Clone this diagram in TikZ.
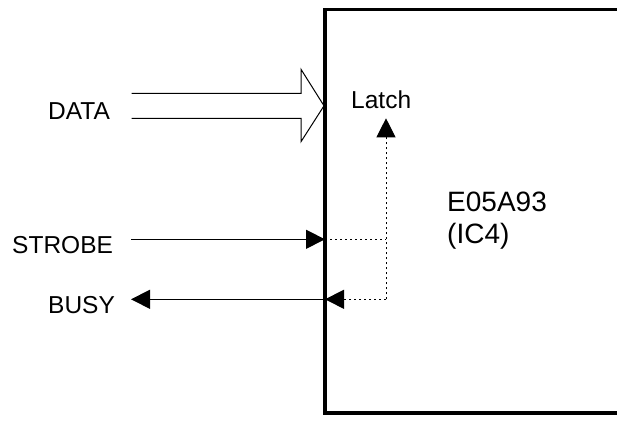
\documentclass[tikz,border=0pt]{standalone}
\usepackage{fontspec}
\setmainfont{Liberation Sans}
\usetikzlibrary{arrows.meta}
\begin{document}
\begin{tikzpicture}[x=1pt,y=-1pt,
  lab/.style={inner sep=0pt,anchor=base west,font=\fontsize{24.5}{29}\selectfont},
  chip/.style={inner sep=0pt,anchor=base west,font=\fontsize{28}{32}\selectfont},
  thin/.style={line width=1pt,black},
  dotline/.style={line width=1pt,black,dash pattern=on 2pt off 3pt},
  tip/.style={-{Triangle[length=19pt,width=19pt,fill=black]}},
  boxline/.style={line width=3.6pt}]
\useasboundingbox (0,0) rectangle (617,420);
\clip (0,0) rectangle (617,420);
% coordinates
\coordinate (tl) at (325,9.5);
\coordinate (bl) at (325,413);
\coordinate (tr) at (640,9.5);
\coordinate (br) at (640,413);
% IC box
\draw[boxline] (tr) -- (tl) -- (bl) -- (br);
% labels
\node[lab] (data) at (48,119.3) {DATA};
\node[lab] (strobe) at (12,253) {STROBE};
\node[lab] (busy) at (48,313) {BUSY};
\node[lab] (latch) at (351,108.3) {Latch};
\node[chip] (chipa) at (447,211.7) {E05A93};
\node[chip] (chipb) at (447,243.2) {(IC4)};
% hollow data arrow
\draw[thin,line join=miter] (131.7,93.3) -- (301,93.3) -- (301,69.3) -- (324,105.8)
  -- (301,141.7) -- (301,118.3) -- (131.7,118.3);
% strobe / busy
\coordinate (sin) at (131,239.3);
\coordinate (sedge) at (325,239.3);
\coordinate (bout) at (131,299.3);
\coordinate (bedge) at (325,299.3);
\coordinate (jS) at (386,239.3);
\coordinate (jB) at (386,299.3);
\coordinate (ltip) at (386,118.3);
\draw[thin,tip] (sin) -- (sedge);
\draw[thin,tip] (bedge) -- (bout);
\draw[dotline] (sedge) -- (jS);
\draw[dotline,tip] (jB) -- (bedge);
\draw[dotline,tip] (jB) -- (ltip);
\end{tikzpicture}
\end{document}
